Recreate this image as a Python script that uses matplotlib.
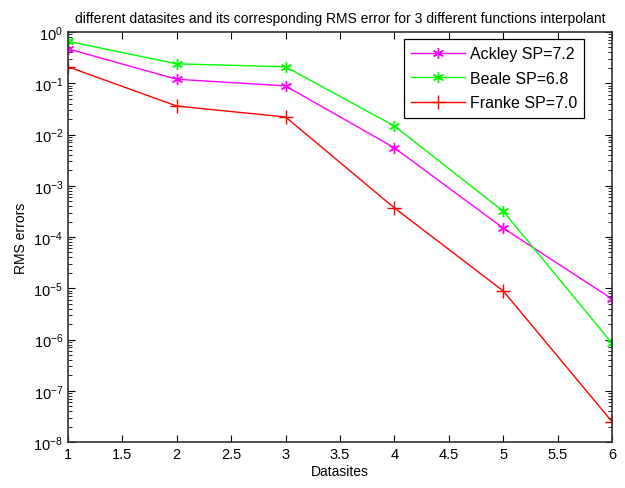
import numpy as np
import matplotlib.pyplot as plt

plt.rcParams['font.family'] = ['Liberation Sans', 'DejaVu Sans']

datasites = [1, 2, 3, 4, 5, 6]
ackley = [0.47, 0.12, 0.089, 0.0055, 1.5e-4, 6.2e-6]
beale = [0.66, 0.24, 0.21, 0.0147, 3.2e-4, 8.5e-7]
franke = [0.21, 0.036, 0.022, 3.7e-4, 8.9e-6, 2.5e-8]

fig = plt.figure(figsize=(6.25, 4.89), dpi=100, facecolor='white')
ax = fig.add_axes([0.1088, 0.094, 0.8704, 0.8384])

ast = (6, 2, 0)  # asterisk like matlab '*'
ax.semilogy(datasites, ackley, color='magenta', marker=ast, markersize=8, mew=1, lw=1, label='Ackley SP=7.2')
ax.semilogy(datasites, beale, color='#00ff00', marker=ast, markersize=8, mew=1, lw=1, label='Beale SP=6.8')
ax.semilogy(datasites, franke, color='red', marker='+', markersize=10, mew=1, lw=1, label='Franke SP=7.0')

ax.set_xlim(1, 6)
ax.set_ylim(1e-8, 1)
ax.set_xticks(np.arange(1, 6.01, 0.5))
ax.set_xticklabels(['1', '1.5', '2', '2.5', '3', '3.5', '4', '4.5', '5', '5.5', '6'])
ax.set_yticks([10.0 ** k for k in range(-8, 1)])
ax.tick_params(which='both', direction='in', top=True, right=True, labelsize=10.5)
ax.tick_params(which='major', length=5)
ax.tick_params(which='minor', length=3)
for s in ax.spines.values():
    s.set_linewidth(1.2)
    s.set_color('#333333')

ax.set_xlabel('Datasites', fontsize=10, labelpad=2)
ax.set_ylabel('RMS errors', fontsize=10)
ax.set_title('different datasites and its corresponding RMS error for 3 different functions interpolant', fontsize=10, pad=7)

leg = ax.legend(loc='upper right', bbox_to_anchor=(0.949, 0.983), borderaxespad=0,
                fontsize=11.5, fancybox=False, edgecolor='black', handlelength=3.4,
                labelspacing=0.6, handletextpad=0.3, borderpad=0.45, framealpha=1)
leg.get_frame().set_linewidth(0.9)

plt.savefig('out.png', dpi=100)
